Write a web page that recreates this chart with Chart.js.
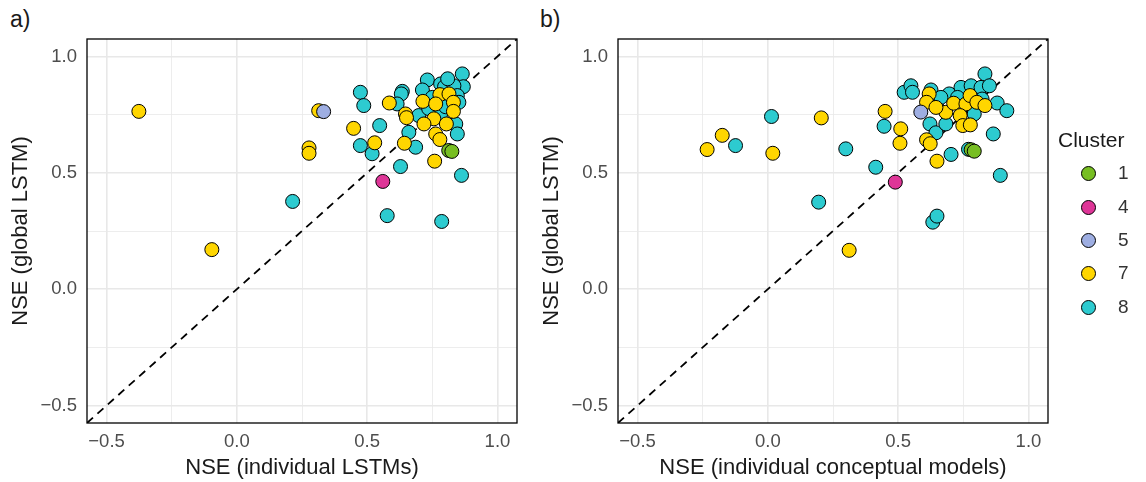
<!DOCTYPE html>
<html>
<head>
<meta charset="utf-8">
<script src="https://cdn.jsdelivr.net/npm/chart.js@4.4.0/dist/chart.umd.min.js"></script>
<style>
  body { margin: 0; background: #fff; width: 1146px; height: 482px; position: relative; overflow: hidden;
         font-family: "Liberation Sans", Arial, sans-serif; }
  canvas { position: absolute; top: 0; }
  #chartA { left: 0; }
  #chartB { left: 531px; }
  .tag { position: absolute; top: 6px; font-size: 23px; color: #1a1a1a; }
  #legend { position: absolute; left: 0; top: 0; }
  #legend .title { position: absolute; left: 1058px; font-size: 21px; color: #1a1a1a; line-height: 24px; }
  #legend .dot { position: absolute; left: 1081px; width: 13px; height: 13px; border-radius: 50%; border: 1px solid #000; }
  #legend .lab { position: absolute; left: 1118px; font-size: 19px; color: #333; line-height: 22px; }
</style>
</head>
<body>
<div class="tag" style="left:10px">a)</div>
<div class="tag" style="left:540px">b)</div>
<canvas id="chartA" width="530" height="482"></canvas>
<canvas id="chartB" width="530" height="482"></canvas>
<div id="legend"></div>
<script>
// axis setup
const axisMin = -0.575, axisMax = 1.075;
const tickValues = [-0.5, -0.25, 0, 0.25, 0.5, 0.75, 1.0];
const majorTicks = [-0.5, 0, 0.5, 1.0];

const clusterNames = ['1', '4', '5', '7', '8'];
const clusterColors = ['#77BE22', '#DE3597', '#9EAEE2', '#FFD600', '#2DCBD0'];

// panel a: [NSE individual LSTM, NSE global LSTM]
const lstmC1 = [[0.813, 0.596], [0.825, 0.592]];
const lstmC4 = [[0.560, 0.463]];
const lstmC5 = [[0.333, 0.763]];
const lstmC7 = [
  [-0.376, 0.764], [-0.096, 0.170], [0.314, 0.767], [0.277, 0.607], [0.277, 0.584],
  [0.448, 0.691], [0.529, 0.629], [0.585, 0.800], [0.647, 0.753], [0.651, 0.737],
  [0.714, 0.807], [0.779, 0.836], [0.814, 0.839], [0.763, 0.796], [0.831, 0.803],
  [0.831, 0.764], [0.756, 0.732], [0.718, 0.710], [0.804, 0.710], [0.763, 0.667],
  [0.779, 0.643], [0.643, 0.627], [0.759, 0.550]
];
const lstmC8 = [
  [0.865, 0.925], [0.869, 0.870], [0.731, 0.899], [0.712, 0.856], [0.782, 0.882],
  [0.797, 0.870], [0.833, 0.874], [0.635, 0.850], [0.631, 0.839], [0.615, 0.796],
  [0.474, 0.846], [0.487, 0.789], [0.750, 0.824], [0.846, 0.832], [0.852, 0.803],
  [0.698, 0.746], [0.782, 0.753], [0.840, 0.710], [0.660, 0.674], [0.846, 0.667],
  [0.548, 0.703], [0.686, 0.610], [0.474, 0.617], [0.519, 0.582], [0.628, 0.527],
  [0.862, 0.489], [0.214, 0.377], [0.577, 0.316], [0.786, 0.291], [0.809, 0.904],
  [0.736, 0.776], [0.801, 0.784]
];

// panel b: [NSE individual conceptual model, NSE global LSTM]
const concC1 = [[0.780, 0.599], [0.792, 0.593]];
const concC4 = [[0.489, 0.460]];
const concC5 = [[0.587, 0.761]];
const concC7 = [
  [-0.233, 0.600], [-0.175, 0.661], [0.019, 0.584], [0.205, 0.736], [0.450, 0.764],
  [0.510, 0.689], [0.507, 0.627], [0.649, 0.550], [0.609, 0.642], [0.623, 0.625],
  [0.619, 0.839], [0.609, 0.803], [0.683, 0.760], [0.713, 0.799], [0.760, 0.796],
  [0.776, 0.832], [0.802, 0.803], [0.833, 0.789], [0.738, 0.746], [0.748, 0.703],
  [0.777, 0.706], [0.645, 0.781], [0.312, 0.167]
];
const concC8 = [
  [-0.124, 0.617], [0.014, 0.742], [0.195, 0.374], [0.299, 0.603], [0.414, 0.524],
  [0.446, 0.700], [0.633, 0.288], [0.649, 0.314], [0.892, 0.489], [0.865, 0.667],
  [0.770, 0.601], [0.703, 0.579], [0.523, 0.846], [0.549, 0.874], [0.555, 0.846],
  [0.626, 0.856], [0.648, 0.784], [0.622, 0.710], [0.645, 0.672], [0.683, 0.710],
  [0.696, 0.839], [0.741, 0.867], [0.780, 0.874], [0.818, 0.867], [0.833, 0.925],
  [0.850, 0.874], [0.880, 0.800], [0.917, 0.767], [0.792, 0.753], [0.822, 0.817],
  [0.728, 0.824], [0.664, 0.824]
];

const isMajor = v => majorTicks.some(m => Math.abs(m - v) < 1e-9);

const panelBorder = {
  id: 'panelBorder',
  afterDraw(chart) {
    const a = chart.chartArea, ctx = chart.ctx;
    ctx.save();
    ctx.strokeStyle = '#000';
    ctx.lineWidth = 1.3;
    ctx.strokeRect(a.left, a.top, a.right - a.left, a.bottom - a.top);
    ctx.restore();
  }
};

function axis(title, isY) {
  return {
    type: 'linear',
    min: axisMin,
    max: axisMax,
    afterBuildTicks: s => { s.ticks = tickValues.map(v => ({ value: v })); },
    afterFit: s => { if (isY) s.width = 87; else s.height = 59; },
    grid: {
      color: '#E8E8E8',
      lineWidth: c => isMajor(c.tick.value) ? 1.6 : 0.8,
      drawTicks: false
    },
    border: { display: false },
    ticks: {
      padding: isY ? 10 : 8,
      color: '#4D4D4D',
      font: { size: 18.5, family: '"Liberation Sans", Arial, sans-serif' },
      maxRotation: 0,
      autoSkip: false,
      callback: v => isMajor(v) ? v.toFixed(1).replace('-', '\u2212') : ''
    },
    title: {
      display: true,
      text: title,
      color: '#1a1a1a',
      font: { size: 22, family: '"Liberation Sans", Arial, sans-serif' },
      padding: isY ? { top: 8, bottom: 0 } : { top: 0, bottom: 1 }
    }
  };
}

function toPoints(arr) {
  return arr.map(p => ({ x: p[0], y: p[1] }));
}

function makePanel(canvasId, xTitle, groups) {
  const datasets = groups.map((g, i) => ({
    type: 'scatter',
    label: clusterNames[i],
    data: toPoints(g),
    backgroundColor: clusterColors[i],
    borderColor: '#000',
    borderWidth: 1,
    pointRadius: 7,
    pointHoverRadius: 7,
    order: i + 1
  }));
  datasets.push({
    type: 'line',
    label: '1:1',
    data: [{ x: axisMin, y: axisMin }, { x: axisMax, y: axisMax }],
    borderColor: '#000',
    borderWidth: 1.8,
    borderDash: [8, 6],
    pointRadius: 0,
    fill: false,
    order: 10
  });
  return new Chart(document.getElementById(canvasId), {
    data: { datasets: datasets },
    options: {
      responsive: false,
      animation: false,
      devicePixelRatio: 1,
      layout: { padding: { top: 39, right: 13, left: 0, bottom: 0 } },
      plugins: { legend: { display: false }, tooltip: { enabled: false } },
      scales: {
        x: axis(xTitle, false),
        y: axis('NSE (global LSTM)', true)
      }
    },
    plugins: [panelBorder]
  });
}

makePanel('chartA', 'NSE (individual LSTMs)', [lstmC1, lstmC4, lstmC5, lstmC7, lstmC8]);
makePanel('chartB', 'NSE (individual conceptual models)', [concC1, concC4, concC5, concC7, concC8]);

// legend
const legendRows = [173, 207, 240, 273, 307];
const legend = document.getElementById('legend');
legend.innerHTML = '<div class="title" style="top:128px">Cluster</div>' + clusterNames.map((n, i) =>
  `<span class="dot" style="top:${legendRows[i] - 7.5}px;background:${clusterColors[i]}"></span>` +
  `<span class="lab" style="top:${legendRows[i] - 11}px">${n}</span>`).join('');
</script>
</body>
</html>
